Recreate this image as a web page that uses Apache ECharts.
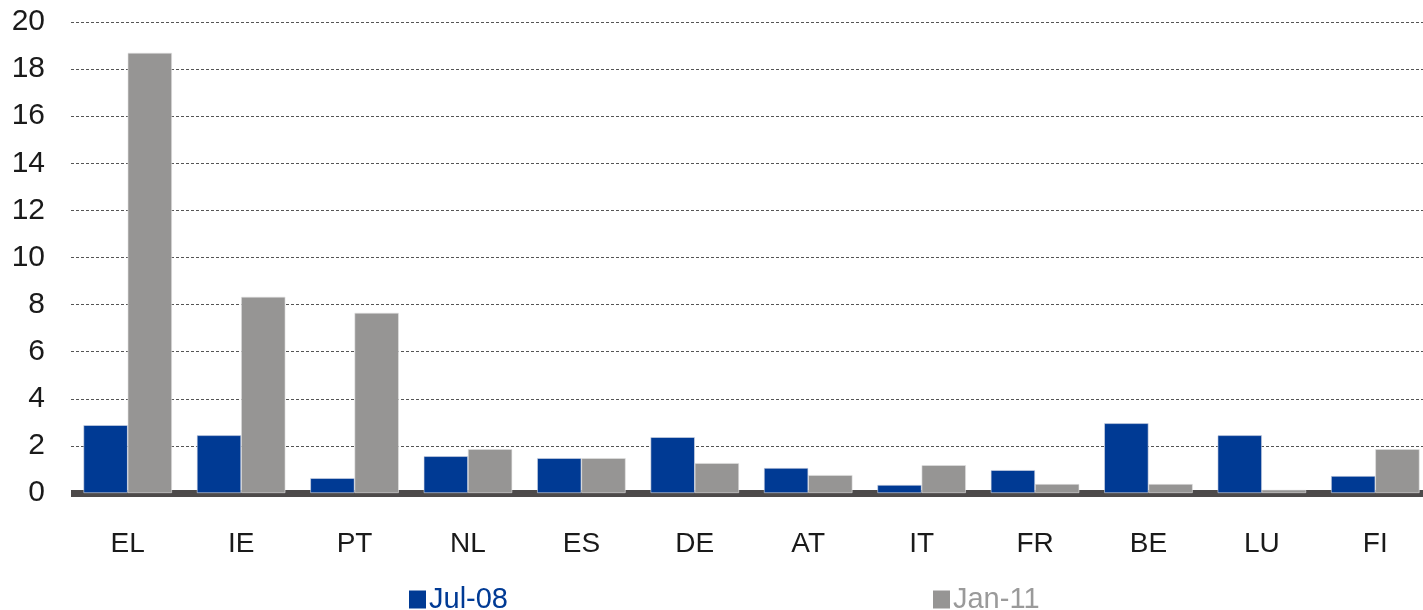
<!DOCTYPE html>
<html lang="en">
<head>
    <meta charset="UTF-8">
    <title>Bar chart</title>
    <script src="https://cdn.jsdelivr.net/npm/echarts@6/dist/echarts.min.js"></script>
    <style>
        html, body {margin: 0; padding: 0; background: #fff;}
    </style>
</head>
<body>
<div id="chart" style="width: 1423px;height: 610px;"></div>

<script type="text/javascript">
    var countries = ['EL', 'IE', 'PT', 'NL', 'ES', 'DE', 'AT', 'IT', 'FR', 'BE', 'LU', 'FI'];
    var jul08 = [2.88, 2.45, 0.63, 1.56, 1.48, 2.37, 1.06, 0.34, 0.97, 2.96, 2.45, 0.72];
    var jan11 = [18.69, 8.33, 7.65, 1.86, 1.48, 1.27, 0.76, 1.18, 0.38, 0.38, 0.13, 1.86];
    var yTicks = [0, 2, 4, 6, 8, 10, 12, 14, 16, 18, 20];

    var myChart = echarts.init(document.getElementById('chart'));

    var option = {
        animation: false,
        textStyle: {fontFamily: 'Liberation Sans, Arial, sans-serif'},
        grid: {
            left: 71,
            width: 1361,
            top: 22,
            bottom: 117,
            outerBoundsMode: 'none'
        },
        legend: {
            left: 404,
            top: 580,
            itemGap: 425,
            itemWidth: 17,
            itemHeight: 18,
            icon: 'rect',
            itemStyle: {borderWidth: 0},
            textStyle: {
                fontSize: 29,
                fontFamily: 'Liberation Sans Narrow, Arial Narrow, Liberation Sans, sans-serif',
                padding: [0, 0, 0, -2]
            },
            data: [
                {name: 'Jul-08', textStyle: {color: '#003a94'}},
                {name: 'Jan-11', textStyle: {color: '#9a9a9a'}}
            ]
        },
        xAxis: {
            type: 'category',
            data: countries,
            offset: 3,
            axisLine: {lineStyle: {color: '#4d4a4a', width: 7, cap: 'butt'}},
            axisTick: {show: false},
            axisLabel: {
                color: '#1a1a1a',
                fontSize: 28,
                margin: 34
            }
        },
        yAxis: {
            type: 'value',
            min: yTicks[0],
            max: yTicks[yTicks.length - 1],
            interval: 2,
            axisLine: {show: false},
            axisTick: {show: false},
            axisLabel: {
                color: '#1a1a1a',
                fontSize: 30,
                margin: 26
            },
            splitLine: {
                lineStyle: {color: '#555', width: 1, type: [3, 2]}
            }
        },
        series: [
            {
                name: 'Jul-08',
                type: 'bar',
                data: jul08,
                barGap: 0,
                barCategoryGap: '22%',
                itemStyle: {color: '#003a94', borderColor: '#d8dce6', borderWidth: 0.6}
            },
            {
                name: 'Jan-11',
                type: 'bar',
                data: jan11,
                itemStyle: {color: '#969594', borderColor: '#e2e2e2', borderWidth: 0.6}
            }
        ]
    };

    myChart.setOption(option);
</script>
</body>
</html>
